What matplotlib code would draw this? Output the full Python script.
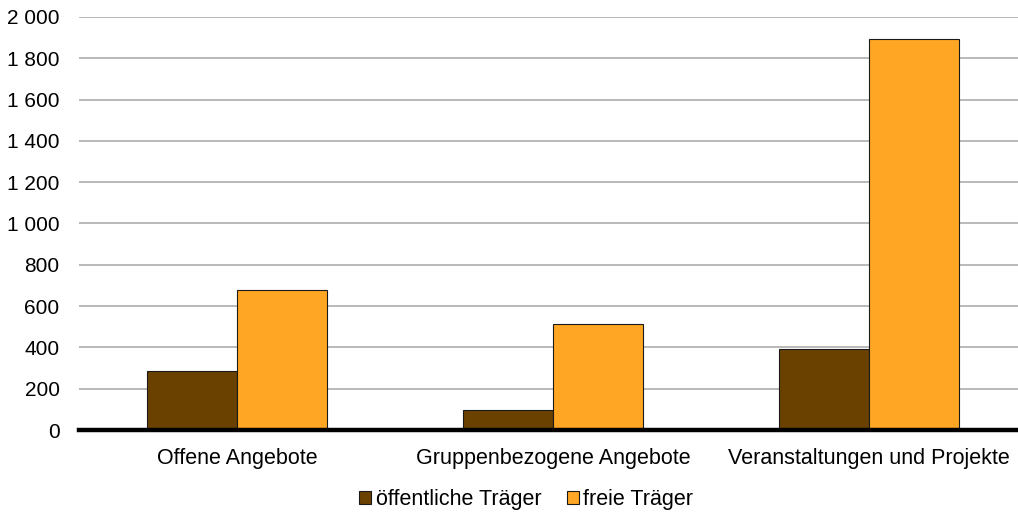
import matplotlib
matplotlib.use("Agg")
import matplotlib.pyplot as plt
import numpy as np
from matplotlib.ticker import FuncFormatter

categories = ["Offene Angebote", "Gruppenbezogene Angebote", "Veranstaltungen und Projekte"]
oeffentlich = [284, 98, 390]
frei = [679, 514, 1894]
series_names = ["öffentliche Träger", "freie Träger"]
yticks = [0, 200, 400, 600, 800, 1000, 1200, 1400, 1600, 1800, 2000]

plt.rcParams['font.family'] = ['Liberation Sans', 'DejaVu Sans']

fig = plt.figure(figsize=(10.18, 5.19), dpi=100)
ax = fig.add_axes([79/1018, 1-430/519, 948/1018, 413/519])

x = np.arange(len(categories))
w = 0.285
ax.bar(x - w/2, oeffentlich, width=w, color="#6B4100", edgecolor="#1a1a1a", linewidth=0.8, label=series_names[0], zorder=3)
ax.bar(x + w/2, frei, width=w, color="#FFA624", edgecolor="#1a1a1a", linewidth=0.8, label=series_names[1], zorder=3)

ax.set_xlim(-0.5, 2.5)
ax.set_ylim(0, 2000)
ax.set_yticks(yticks)
ax.yaxis.set_major_formatter(FuncFormatter(lambda v, p: f"{int(v):,}".replace(",", " ")))
ax.set_xticks(x)
ax.set_xticklabels(categories)
ax.grid(axis='y', color="#a6a6a6", linewidth=1.1, zorder=0)
for s in ["top", "right", "left"]:
    ax.spines[s].set_visible(False)
ax.spines["bottom"].set_linewidth(3.2)
ax.spines["bottom"].set_color("black")
ax.spines["bottom"].set_zorder(5)
ax.tick_params(axis='y', length=0, pad=14, labelsize=15)
ax.tick_params(axis='x', length=0, pad=13, labelsize=15.5)

fig.legend(loc="center", bbox_to_anchor=(0.517, 1-500/519), ncol=2, frameon=False,
           fontsize=15.5, handlelength=0.55, handleheight=0.55, handletextpad=0.2,
           columnspacing=1.2)

fig.savefig("out.png", dpi=100)
